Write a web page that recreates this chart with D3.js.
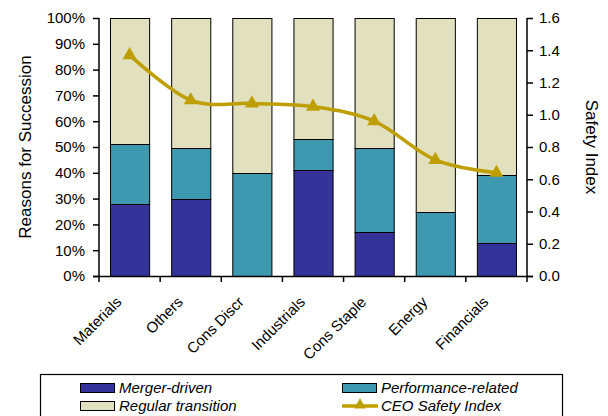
<!DOCTYPE html>
<html><head><meta charset="utf-8">
<script src="https://cdn.jsdelivr.net/npm/d3@7"></script>
<style>body{margin:0;background:#fff}svg{display:block}text{font-family:"Liberation Sans",Arial,sans-serif;fill:#000}</style>
</head><body>
<script>
const categories = ["Materials","Others","Cons Discr","Industrials","Cons Staple","Energy","Financials"];
const mergerDriven = [0.28, 0.30, 0.00, 0.41, 0.172, 0.00, 0.129];
const performanceRelated = [0.23, 0.195, 0.40, 0.12, 0.325, 0.25, 0.262];
const regularTransition = [0.49, 0.505, 0.60, 0.47, 0.503, 0.75, 0.609];
const safetyIndex = [1.37, 1.09, 1.07, 1.05, 0.96, 0.72, 0.64];
const leftTicks = [0,0.1,0.2,0.3,0.4,0.5,0.6,0.7,0.8,0.9,1.0];
const rightTicks = [0,0.2,0.4,0.6,0.8,1.0,1.2,1.4,1.6];
const seriesNames = ["Merger-driven","Performance-related","Regular transition","CEO Safety Index"];
const colors = {merger:"#333399", perf:"#3d98b0", regular:"#e1e0bf", line:"#bf9f00"};

const W=608,H=416;
const svg=d3.select("body").append("svg").attr("width",W).attr("height",H);
const x=d3.scaleBand().domain(categories).range([99,527]).paddingInner(0.36).paddingOuter(0.18);
const y=d3.scaleLinear().domain([0,1]).range([276,18]);
const y2=d3.scaleLinear().domain([0,1.6]).range([276,18]);

const rows=categories.map((c,i)=>({cat:c,merger:mergerDriven[i],perf:performanceRelated[i],regular:regularTransition[i]}));
const stack=d3.stack().keys(["merger","perf","regular"])(rows);
const g=svg.append("g");
stack.forEach(s=>{
  g.selectAll(null).data(s.filter(d=>d[1]-d[0]>0.0001)).join("rect")
   .attr("x",d=>x(d.data.cat)+0.5).attr("width",x.bandwidth())
   .attr("y",d=>Math.round(y(d[1]))+0.5).attr("height",d=>Math.round(y(d[0]))-Math.round(y(d[1])))
   .attr("fill",colors[s.key]).attr("stroke","#000").attr("stroke-width",1);
});

// axes
const ax=svg.append("g").attr("transform","translate(99,0)")
  .call(d3.axisLeft(y).tickValues(leftTicks).tickFormat(d3.format(".0%")).tickSize(6).tickPadding(8));
const ax2=svg.append("g").attr("transform","translate(527,0)")
  .call(d3.axisRight(y2).tickValues(rightTicks).tickFormat(d3.format(".1f")).tickSize(6).tickPadding(6));
[ax,ax2].forEach(a=>{a.select(".domain").attr("stroke","#000").attr("stroke-width",1.5);
  a.selectAll(".tick line").attr("stroke","#000").attr("stroke-width",1.5);
  a.selectAll("text").attr("font-size",15).attr("font-family","Liberation Sans, Arial, sans-serif");});
ax.select(".domain").attr("d","M-6,276.5H0V18");
ax2.select(".domain").attr("d","M6,276.5H0V18");

// x axis
const step=x.step();
const bounds=d3.range(categories.length+1).map(i=>99+i*step);
svg.append("line").attr("x1",99).attr("x2",527).attr("y1",276.5).attr("y2",276.5).attr("stroke","#000").attr("stroke-width",1.5);
svg.selectAll(null).data(bounds).join("line").attr("x1",d=>d).attr("x2",d=>d).attr("y1",276).attr("y2",282)
  .attr("stroke","#000").attr("stroke-width",1.5);
svg.selectAll(null).data(categories).join("text")
  .attr("transform",d=>`translate(${x(d)+x.bandwidth()/2-7},303) rotate(-45)`)
  .attr("text-anchor","end").attr("font-size",15).text(d=>d);

// titles
svg.append("text").attr("transform","translate(31,147) rotate(-90)").attr("text-anchor","middle").attr("font-size",17).text("Reasons for Succession");
svg.append("text").attr("transform","translate(586,147) rotate(90)").attr("text-anchor","middle").attr("font-size",17).text("Safety Index");

// line
const pts=categories.map((c,i)=>[x(c)+x.bandwidth()/2,y2(safetyIndex[i])]);
svg.append("path").attr("d",d3.line().curve(d3.curveCardinal.tension(0))(pts))
  .attr("fill","none").attr("stroke",colors.line).attr("stroke-width",3.5);
const tri=d3.symbol().type(d3.symbolTriangle).size(85);
svg.selectAll(null).data(pts).join("path").attr("d",tri()).attr("transform",d=>`translate(${d[0]},${d[1]})`).attr("fill",colors.line);

// legend
svg.append("rect").attr("x",40.5).attr("y",374.5).attr("width",522).attr("height",60).attr("fill","#fff").attr("stroke","#000").attr("stroke-width",1.2);
const leg=[{t:seriesNames[0],c:colors.merger,x:80,y:383,type:"rect"},
           {t:seriesNames[1],c:colors.perf,x:342,y:383,type:"rect"},
           {t:seriesNames[2],c:colors.regular,x:80,y:401,type:"rect"},
           {t:seriesNames[3],c:colors.line,x:342,y:401,type:"line"}];
leg.forEach(l=>{
  if(l.type==="rect"){
    svg.append("rect").attr("x",l.x+0.5).attr("y",l.y+0.5).attr("width",34).attr("height",9).attr("fill",l.c).attr("stroke","#000").attr("stroke-width",1);
  } else {
    svg.append("line").attr("x1",l.x).attr("x2",l.x+36).attr("y1",l.y+5).attr("y2",l.y+5).attr("stroke",l.c).attr("stroke-width",3.5);
    svg.append("path").attr("d",d3.symbol().type(d3.symbolTriangle).size(60)()).attr("transform",`translate(${l.x+18},${l.y+4})`).attr("fill",l.c);
  }
  svg.append("text").attr("x",l.x+39).attr("y",l.y+9.5).attr("font-size",15).attr("font-style","italic").text(l.t);
});
</script>
</body></html>
